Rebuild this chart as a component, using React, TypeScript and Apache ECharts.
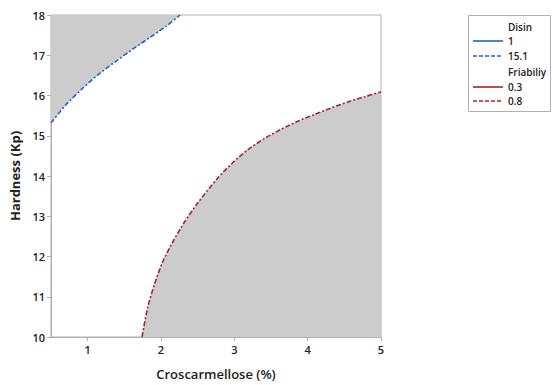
import React, { useEffect, useRef } from "react";
import * as echarts from "echarts";

const xTicks = [1, 2, 3, 4, 5];
const yTicks = [10, 11, 12, 13, 14, 15, 16, 17, 18];

// Disin contour (15.1), shaded above
const disinX = [0.5, 0.704, 0.932, 1.158, 1.386, 1.614, 1.84, 2.068, 2.26];
const disinY = [15.32, 15.77, 16.18, 16.54, 16.85, 17.15, 17.43, 17.72, 18.0];

// Friability contour (0.8), shaded below
const friaX = [1.741, 1.819, 1.909, 2.023, 2.16, 2.318, 2.501, 2.774, 2.978, 3.182, 3.409, 3.637, 3.865, 4.092, 4.319, 4.547, 4.775, 5.0];
const friaY = [10.0, 10.74, 11.3, 11.87, 12.36, 12.85, 13.33, 13.95, 14.33, 14.65, 14.93, 15.16, 15.36, 15.53, 15.69, 15.84, 15.97, 16.09];

const BLUE = "#1f66c1";
const RED = "#a8232a";
const FONT = "Open Sans";

export default function App() {
  const ref = useRef<HTMLDivElement>(null);
  useEffect(() => {
    const chart = echarts.init(ref.current!, null, { renderer: "svg" });
    const legendX1 = 473;
    const legendX2 = 503;
    const textX = 508;
    const lf = `600 10px ${FONT}`;
    chart.setOption({
      animation: false,
      grid: {
        left: 49,
        right: 172,
        top: 15,
        bottom: 41,
        show: true,
        borderColor: "#b0b0b0",
        borderWidth: 1,
      },
      xAxis: {
        type: "value",
        min: 0.5,
        max: 5,
        name: "Croscarmellose (%)",
        nameLocation: "middle",
        nameGap: 30,
        nameTextStyle: { fontFamily: FONT, fontSize: 13, color: "#222", fontWeight: 600 },
        axisLine: { show: true, lineStyle: { color: "#b0b0b0" } },
        axisTick: { show: true, customValues: xTicks, length: 4, lineStyle: { color: "#b0b0b0" } },
        axisLabel: { customValues: xTicks, fontFamily: FONT, fontSize: 11, color: "#222", fontWeight: 600, margin: 7 },
        splitLine: { show: false },
      },
      yAxis: {
        type: "value",
        min: 10,
        max: 18,
        interval: 1,
        name: "Hardness (Kp)",
        nameLocation: "middle",
        nameGap: 30,
        nameTextStyle: { fontFamily: FONT, fontSize: 13, color: "#222", fontWeight: 700 },
        axisLine: { show: true, lineStyle: { color: "#b0b0b0" } },
        axisTick: { show: true, length: 4, lineStyle: { color: "#b0b0b0" } },
        axisLabel: {
          customValues: yTicks,
          fontFamily: FONT, fontSize: 11, color: "#222", fontWeight: 600, margin: 6,
        },
        splitLine: { show: false },
      },
      series: [
        {
          type: "line",
          data: disinX.map((x, i) => [x, disinY[i]]),
          smooth: 0.25,
          symbol: "none",
          lineStyle: { color: BLUE, width: 1.6, type: [5, 2, 2, 2] },
          areaStyle: { origin: "end", color: "#cccccc", opacity: 1 },
          z: 2,
        },
        {
          type: "line",
          data: friaX.map((x, i) => [x, friaY[i]]),
          smooth: 0.25,
          symbol: "none",
          lineStyle: { color: RED, width: 1.6, type: [5, 2, 2, 2] },
          areaStyle: { origin: "start", color: "#cccccc", opacity: 1 },
          z: 2,
        },
      ],
      graphic: [
        {
          type: "rect",
          shape: { x: 468.5, y: 15.5, width: 82, height: 96 },
          style: { fill: "#fff", stroke: "#b0b0b0", lineWidth: 1 },
        },
        { type: "text", x: textX, y: 27, style: { text: "Disin", font: lf, fill: "#222", textVerticalAlign: "middle" } },
        { type: "line", shape: { x1: legendX1, y1: 41, x2: legendX2, y2: 41 }, style: { stroke: BLUE, lineWidth: 1.6 } },
        { type: "text", x: textX, y: 41, style: { text: "1", font: lf, fill: "#222", textVerticalAlign: "middle" } },
        { type: "line", shape: { x1: legendX1, y1: 56, x2: legendX2, y2: 56 }, style: { stroke: BLUE, lineWidth: 1.6, lineDash: [4, 2] } },
        { type: "text", x: textX, y: 56, style: { text: "15.1", font: lf, fill: "#222", textVerticalAlign: "middle" } },
        { type: "text", x: textX, y: 72, style: { text: "Friabiliy", font: lf, fill: "#222", textVerticalAlign: "middle" } },
        { type: "line", shape: { x1: legendX1, y1: 87, x2: legendX2, y2: 87 }, style: { stroke: RED, lineWidth: 1.6 } },
        { type: "text", x: textX, y: 87, style: { text: "0.3", font: lf, fill: "#222", textVerticalAlign: "middle" } },
        { type: "line", shape: { x1: legendX1, y1: 101, x2: legendX2, y2: 101 }, style: { stroke: RED, lineWidth: 1.6, lineDash: [4, 2] } },
        { type: "text", x: textX, y: 101, style: { text: "0.8", font: lf, fill: "#222", textVerticalAlign: "middle" } },
      ],
    });
    return () => chart.dispose();
  }, []);
  return <div ref={ref} style={{ width: 553, height: 385, position: "absolute", left: 0, top: 0 }} />;
}
